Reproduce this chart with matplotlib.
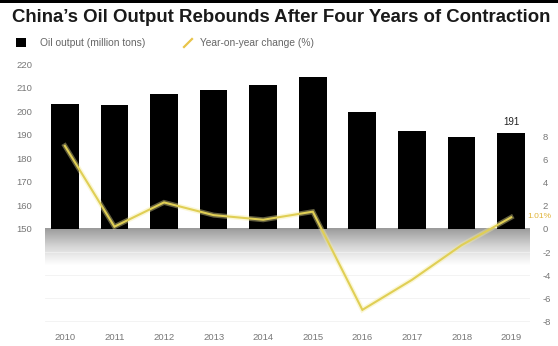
import numpy as np
import matplotlib.pyplot as plt
from matplotlib.lines import Line2D
from matplotlib.patches import Rectangle
from matplotlib.colors import LinearSegmentedColormap

plt.rcParams['font.family'] = ['Liberation Sans', 'DejaVu Sans']

years = ['2010', '2011', '2012', '2013', '2014', '2015', '2016', '2017', '2018', '2019']
output_mt = [203.0, 202.9, 207.5, 209.2, 211.4, 214.6, 199.7, 191.5, 189.1, 191.0]
yoy_pct = [7.2, 0.2, 2.3, 1.2, 0.8, 1.5, -7.0, -4.4, -1.4, 1.01]
left_ticks = [150, 160, 170, 180, 190, 200, 210, 220]
right_ticks = [-8, -6, -4, -2, 0, 2, 4, 6, 8]

W, H = 558, 346
fig = plt.figure(figsize=(W / 100, H / 100), dpi=100)
fig.patch.set_facecolor('white')

# thick rule along the top edge
fig.add_artist(Rectangle((0, 1 - 3 / H), 1, 3 / H, transform=fig.transFigure,
                         facecolor='black', edgecolor='none'))

ax_l, ax_r, ax_t, ax_b = 45, 530, 55, 325
ax = fig.add_axes([ax_l / W, 1 - ax_b / H, (ax_r - ax_l) / W, (ax_b - ax_t) / H])
ax2 = ax.twinx()

base = 150
ax.set_ylim(109.1, 224.0)
ax2.set_ylim(-8.31, 15.06)
x = np.arange(len(years))
ax.set_xlim(-0.4, len(years) - 1 + 0.38)

# faint horizontal guides
for t in right_ticks:
    if t < 0:
        ax2.axhline(t, color='#f1f1f1', lw=0.6, zorder=0)

# grey fade below the baseline
grad = np.linspace(0, 1, 256).reshape(-1, 1)
cmap = LinearSegmentedColormap.from_list('fade', ['#9a9a9a', '#d6d6d6', '#ffffff'])
ax.imshow(grad, cmap=cmap, aspect='auto', extent=(-0.4, 9.42, base, base - 15.5),
          origin='lower', zorder=1, interpolation='bicubic')

ax.bar(x, [v - base for v in output_mt], bottom=base, width=0.56, color='black', zorder=2)
ax.text(x[-1], output_mt[-1] + 2.2, f'{output_mt[-1]:.0f}', ha='center', va='bottom',
        fontsize=7, color='#222222')

# yoy line with a soft glow
ax2.plot(x, yoy_pct, color='#f6ec9a', lw=3.6, alpha=0.4, zorder=3, solid_joinstyle='miter')
ax2.plot(x, yoy_pct, color='#e0cf55', lw=1.5, zorder=4, solid_joinstyle='miter')
ax2.text(len(years) - 1 + 0.33, yoy_pct[-1] + 0.1, f'{yoy_pct[-1]:.2f}%', fontsize=6,
         color='#e0b43a', ha='left', va='center', clip_on=False)

for a in (ax, ax2):
    for s in a.spines.values():
        s.set_visible(False)
    a.tick_params(length=0, labelsize=6.8, labelcolor='#777777')

ax.set_yticks(left_ticks)
ax.set_yticklabels([str(t) for t in left_ticks])
ax.tick_params(axis='y', pad=9)
ax2.set_yticks(right_ticks)
ax2.set_yticklabels([str(t) for t in right_ticks])
ax2.tick_params(axis='y', pad=9)
ax.set_xticks(x)
ax.set_xticklabels(years)
ax.tick_params(axis='x', pad=6)

fig.text(12 / W, 1 - 18 / H, "China\u2019s Oil Output Rebounds After Four Years of Contraction",
         fontsize=13.4, fontweight='bold', color='#1a1a1a', va='center', ha='left')

# legend
fig.add_artist(Rectangle((16 / W, 1 - 47 / H), 10 / W, 9 / H, transform=fig.transFigure,
                         facecolor='black', edgecolor='none'))
fig.text(40 / W, 1 - 43 / H, 'Oil output (million tons)', fontsize=7.4, color='#666666',
         va='center', ha='left')
fig.add_artist(Line2D([184 / W, 192 / W], [1 - 47 / H, 1 - 39 / H], transform=fig.transFigure,
                      color='#e8c44a', lw=1.6))
fig.text(200 / W, 1 - 43 / H, 'Year-on-year change (%)', fontsize=7.4, color='#666666',
         va='center', ha='left')

fig.savefig('out.png', dpi=100, facecolor='white')
